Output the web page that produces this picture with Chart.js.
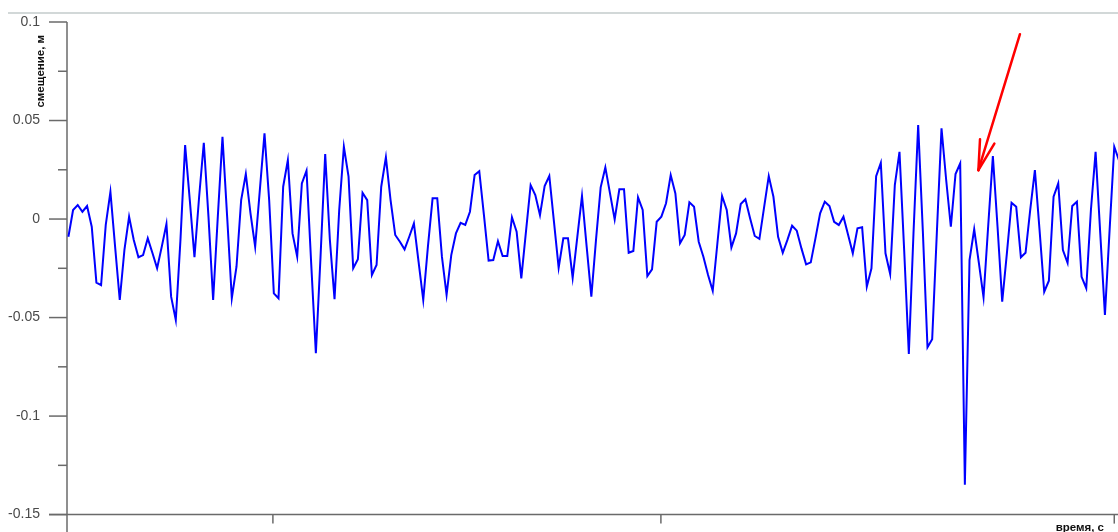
<!DOCTYPE html>
<html>
<head>
<meta charset="utf-8">
<script src="https://cdn.jsdelivr.net/npm/chart.js@4.4.0/dist/chart.umd.min.js"></script>
<style>
html, body { margin: 0; padding: 0; background: #fff; }
</style>
</head>
<body>
<canvas id="chart" width="1118" height="532"></canvas>
<script>
// ===== DATA =====
// displacement samples, m (equal time step)
const displacement = [
    -0.0090, 0.0046, 0.0071, 0.0037, 0.0066, -0.0039, -0.0323, -0.0336, -0.0030, 0.0138,
    -0.0140, -0.0411, -0.0157, 0.0012, -0.0106, -0.0194, -0.0183, -0.0098, -0.0172, -0.0250,
    -0.0140, -0.0025, -0.0394, -0.0512, -0.0106, 0.0375, 0.0096, -0.0194, 0.0113, 0.0387,
    0.0012, -0.0411, 0.0012, 0.0417, 0.0012, -0.0402, -0.0242, 0.0096, 0.0228, 0.0029,
    -0.0140, 0.0147, 0.0435, 0.0096, -0.0377, -0.0402, 0.0164, 0.0299, -0.0073, -0.0191,
    0.0181, 0.0245, -0.0225, -0.0681, -0.0191, 0.0330, -0.0106, -0.0407, 0.0046, 0.0367,
    0.0215, -0.0250, -0.0204, 0.0133, 0.0096, -0.0284, -0.0233, 0.0164, 0.0313, 0.0096,
    -0.0081, -0.0115, -0.0154, -0.0090, -0.0022, -0.0217, -0.0411, -0.0140, 0.0105, 0.0105,
    -0.0191, -0.0385, -0.0183, -0.0073, -0.0019, -0.0030, 0.0037, 0.0223, 0.0243, 0.0020,
    -0.0211, -0.0208, -0.0112, -0.0188, -0.0188, 0.0009, -0.0064, -0.0301, -0.0064, 0.0172,
    0.0122, 0.0020, 0.0167, 0.0218, -0.0014, -0.0247, -0.0098, -0.0098, -0.0298, -0.0090,
    0.0117, -0.0140, -0.0394, -0.0106, 0.0161, 0.0262, 0.0130, -0.0002, 0.0151, 0.0151,
    -0.0171, -0.0162, 0.0110, 0.0046, -0.0289, -0.0255, -0.0014, 0.0012, 0.0080, 0.0223,
    0.0130, -0.0123, -0.0081, 0.0085, 0.0062, -0.0115, -0.0191, -0.0284, -0.0364, -0.0123,
    0.0117, 0.0046, -0.0144, -0.0073, 0.0076, 0.0100, 0.0004, -0.0086, -0.0101, 0.0059,
    0.0218, 0.0113, -0.0090, -0.0171, -0.0106, -0.0034, -0.0059, -0.0149, -0.0230, -0.0220,
    -0.0098, 0.0029, 0.0088, 0.0066, -0.0014, -0.0030, 0.0012, -0.0081, -0.0174, -0.0047,
    -0.0042, -0.0343, -0.0250, 0.0218, 0.0285, -0.0174, -0.0279, 0.0172, 0.0341, -0.0157,
    -0.0685, -0.0071, 0.0477, -0.0060, -0.0651, -0.0610, -0.0070, 0.0460, 0.0198, -0.0039,
    0.0228, 0.0282, -0.1349, -0.0208, -0.0052, -0.0223, -0.0397, -0.0035, 0.0319, -0.0039,
    -0.0419, -0.0174, 0.0083, 0.0062, -0.0194, -0.0171, 0.0046, 0.0248, -0.0056, -0.0369,
    -0.0313, 0.0113, 0.0181, -0.0157, -0.0222, 0.0066, 0.0088, -0.0293, -0.0351, 0.0046,
    0.0341, -0.0073, -0.0487, -0.0056, 0.0367, 0.0299
];

const yMajorTicks = [-0.15, -0.1, -0.05, 0, 0.05, 0.1];
const yTickLabels = ["-0.15", "-0.1", "-0.05", "0", "0.05", "0.1"];
const yMinorTicks = [-0.125, -0.075, -0.025, 0.025, 0.075];
const xTicks = [43.8, 126.9, 224.0]; // in samples, no labels

const points = displacement.map((v, i) => ({ x: i, y: v }));

// red arrow, in data units (sample, m)
const arrowTail = [203.8, 0.0938];
const arrowTip = [194.9, 0.0248];

// ===== AXES / DECOR =====
function seg(ctx, x1, y1, x2, y2) {
    ctx.beginPath();
    ctx.moveTo(x1, y1);
    ctx.lineTo(x2, y2);
    ctx.stroke();
}

const decor = {
    id: "decor",
    beforeDatasetsDraw(chart) {
        const { ctx, chartArea, scales: { x, y } } = chart;
        const left = chartArea.left, bottom = chartArea.bottom;
        ctx.save();

        // thin frame line on top
        ctx.strokeStyle = "#c3cbcb";
        ctx.lineWidth = 1.5;
        seg(ctx, 8, chartArea.top - 9, chart.width, chartArea.top - 9);

        ctx.strokeStyle = "#6a6a6a";
        ctx.lineWidth = 1.5;
        seg(ctx, left, y.getPixelForValue(0.1), left, chart.height);
        seg(ctx, left - 18, bottom, chart.width, bottom);

        yMajorTicks.forEach(v => {
            const py = y.getPixelForValue(v);
            seg(ctx, left - 18, py, left, py);
        });
        yMinorTicks.forEach(v => {
            const py = y.getPixelForValue(v);
            seg(ctx, left - 9, py, left, py);
        });
        xTicks.forEach(v => {
            const px = x.getPixelForValue(v);
            seg(ctx, px, bottom, px, bottom + 9);
        });

        // axis titles
        ctx.fillStyle = "#111";
        ctx.font = "bold 11.5px 'Liberation Sans', Arial, sans-serif";
        ctx.textAlign = "right";
        ctx.textBaseline = "alphabetic";
        ctx.fillText("время, с", 1104, 530.5);

        ctx.translate(41, y.getPixelForValue(0.075));
        ctx.rotate(-Math.PI / 2);
        ctx.textAlign = "center";
        ctx.textBaseline = "middle";
        ctx.fillText("смещение, м", 0, 0);
        ctx.restore();
    },
    afterDatasetsDraw(chart) {
        const { ctx, scales: { x, y } } = chart;
        const x1 = x.getPixelForValue(arrowTail[0]), y1 = y.getPixelForValue(arrowTail[1]);
        const x2 = x.getPixelForValue(arrowTip[0]), y2 = y.getPixelForValue(arrowTip[1]);
        const back = Math.atan2(y1 - y2, x1 - x2);
        const wing = 31, spread = 14 * Math.PI / 180;
        ctx.save();
        ctx.strokeStyle = "#ff0000";
        ctx.lineWidth = 2.5;
        ctx.lineCap = "round";
        seg(ctx, x1, y1, x2, y2);
        seg(ctx, x2, y2, x2 + wing * Math.cos(back - spread), y2 + wing * Math.sin(back - spread));
        seg(ctx, x2, y2, x2 + wing * Math.cos(back + spread), y2 + wing * Math.sin(back + spread));
        ctx.restore();
    }
};

// ===== CHART =====
new Chart(document.getElementById("chart"), {
    type: "line",
    data: {
        datasets: [{
            data: points,
            borderColor: "#0000ff",
            borderWidth: 2,
            pointRadius: 0,
            tension: 0,
            fill: false
        }]
    },
    options: {
        responsive: false,
        animation: false,
        layout: { padding: { top: 22, right: 0, left: 0, bottom: 0 } },
        plugins: {
            legend: { display: false },
            tooltip: { enabled: false }
        },
        scales: {
            x: {
                type: "linear",
                min: -0.3,
                max: 224.8,
                afterBuildTicks: s => { s.ticks = xTicks.map(v => ({ value: v })); },
                afterFit: s => { s.height = 17; },
                ticks: { display: false },
                grid: { display: false },
                border: { display: false }
            },
            y: {
                min: -0.15,
                max: 0.1,
                afterBuildTicks: s => { s.ticks = yMajorTicks.map(v => ({ value: v })); },
                afterFit: s => { s.width = 67; },
                ticks: {
                    padding: 9,
                    color: "#4a4a4a",
                    font: { family: "'Liberation Sans', Arial, sans-serif", size: 14 },
                    callback: (v, i) => yTickLabels[i]
                },
                grid: { display: false, drawTicks: true, tickLength: 18 },
                border: { display: false }
            }
        }
    },
    plugins: [decor]
});
</script>
</body>
</html>
